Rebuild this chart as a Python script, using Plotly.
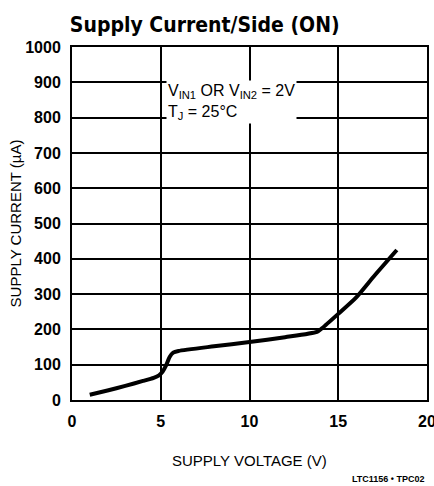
import plotly.graph_objects as go

# Data
supply_voltage = [1.0, 2.0, 3.0, 4.0, 4.6, 4.9, 5.1, 5.3, 5.5, 5.7, 6.0, 8.0, 10.0, 12.0, 13.8, 14.1, 15.0, 16.0, 17.0, 18.3]
supply_current = [15, 27, 40, 54, 63, 70, 80, 98, 122, 134, 139, 152, 164, 178, 193, 204, 244, 290, 350, 425]

x_ticks = [0, 5, 10, 15, 20]
y_ticks = [0, 100, 200, 300, 400, 500, 600, 700, 800, 900, 1000]

FONT = "DejaVu Sans Condensed, Liberation Sans Narrow, Liberation Sans, Arial, sans-serif"
TFONT = "Liberation Sans, Arial, sans-serif"

fig = go.Figure()
fig.add_trace(go.Scatter(
    x=supply_voltage, y=supply_current, mode="lines",
    line=dict(color="black", width=4, shape="spline", smoothing=0.6),
    hoverinfo="skip", showlegend=False,
))

fig.update_layout(
    width=434, height=486,
    margin=dict(l=72, r=7, t=47, b=86),
    paper_bgcolor="white", plot_bgcolor="white",
    font=dict(family=TFONT, color="black"),
    title=dict(text="<b>Supply Current/Side (ON)</b>", x=0.161, xref="container", xanchor="left",
               y=0.95, yref="container", yanchor="middle",
               font=dict(size=21, family=FONT, color="black")),
    xaxis=dict(range=[0, 20], tickvals=x_ticks, ticktext=[str(t) for t in x_ticks],
               showgrid=True, gridcolor="black", gridwidth=1.5,
               showline=True, linecolor="black", linewidth=2, mirror=True,
               zeroline=False, ticks="", ticklabelstandoff=6, automargin=False,
               ticklabeloverflow="allow",
               tickfont=dict(size=16, family=TFONT, weight="bold")),
    yaxis=dict(range=[0, 1000], tickvals=y_ticks, ticktext=[str(t) for t in y_ticks],
               showgrid=True, gridcolor="black", gridwidth=1.5,
               showline=True, linecolor="black", linewidth=2, mirror=True,
               zeroline=False, ticks="", ticklabelstandoff=6, automargin=False,
               tickfont=dict(size=16, family=TFONT, weight="bold")),
    annotations=[
        dict(text="SUPPLY CURRENT (µA)", xref="paper", yref="paper",
             x=-0.158, y=0.5, textangle=-90, showarrow=False,
             font=dict(size=15, family=TFONT), xanchor="center", yanchor="middle"),
        dict(text="SUPPLY VOLTAGE (V)", xref="paper", yref="paper",
             x=0.5, y=-0.17, showarrow=False,
             font=dict(size=15, family=TFONT), xanchor="center", yanchor="middle"),
        dict(text="<b>LTC1156 • TPC02</b>", xref="paper", yref="paper",
             x=1.0, y=-0.223, showarrow=False,
             font=dict(size=9, family=TFONT),
             xanchor="right", yanchor="middle"),
        dict(text="V<sub>IN1</sub> OR V<sub>IN2</sub> = 2V<br>T<sub>J</sub> = 25°C",
             xref="x", yref="y", x=5.3, y=845, showarrow=False, align="left",
             xanchor="left", yanchor="middle", bgcolor="white",
             font=dict(size=16, family=TFONT)),
    ],
)

fig.write_html("out.html", config={"displayModeBar": False},
               post_script="document.body.style.margin='0';")
